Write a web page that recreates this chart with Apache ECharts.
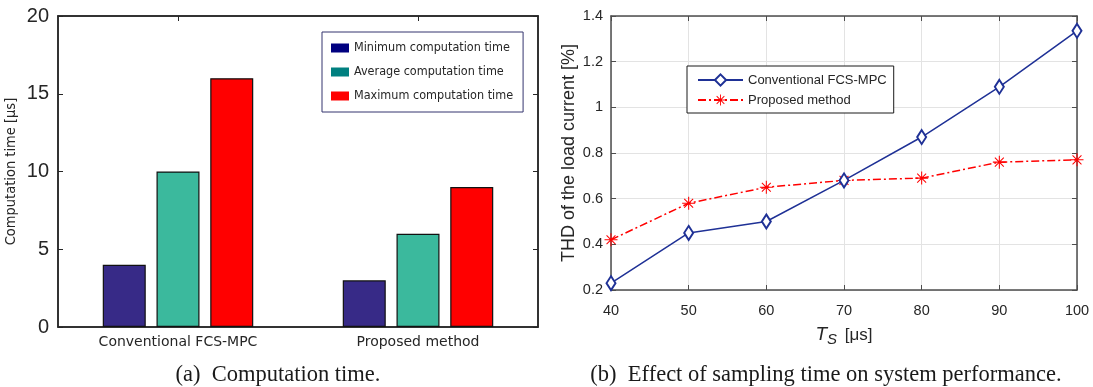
<!DOCTYPE html>
<html>
<head>
<meta charset="utf-8">
<script src="https://cdn.jsdelivr.net/npm/echarts@6/dist/echarts.min.js"></script>
<style>
  html, body { margin: 0; padding: 0; background: #fff; }
  #chart { width: 1093px; height: 387px; }
</style>
</head>
<body>
<div id="chart"></div>
<script>
// ---- Data (a) ----
const barCategories = ['Conventional FCS-MPC', 'Proposed method'];
const minTime = [4, 3];
const avgTime = [10, 6];
const maxTime = [16, 9];
const barTicks = [0, 5, 10, 15, 20];

// ---- Data (b) ----
const tsValues = [40, 50, 60, 70, 80, 90, 100];
const thdConventional = [0.23, 0.45, 0.50, 0.68, 0.87, 1.09, 1.335];
const thdProposed = [0.42, 0.58, 0.65, 0.68, 0.69, 0.76, 0.77];

const pairs = (xs, ys) => xs.map((x, i) => [x, ys[i]]);

const asterisk = 'path://M9.2 0H10.8V20H9.2Z M0 9.2H20V10.8H0Z M2.6 3.7L3.7 2.6L17.4 16.3L16.3 17.4Z M16.3 2.6L17.4 3.7L3.7 17.4L2.6 16.3Z';

const frameA = '#262626';
const frameB = '#4d4d4d';
const sans = 'Liberation Sans, Arial, sans-serif';

const chart = echarts.init(document.getElementById('chart'), null, { renderer: 'canvas' });

const option = {
  animation: false,
  backgroundColor: '#ffffff',
  grid: [
    { left: 58, right: 555, top: 16, bottom: 60, containLabel: false,
      show: true, borderColor: frameA, borderWidth: 1.5, backgroundColor: 'transparent' },
    { left: 611, right: 16, top: 16, bottom: 97, containLabel: false }
  ],
  legend: [
    {
      orient: 'vertical', left: 322, top: 32,
      padding: [9, 10, 9, 9],
      borderColor: '#35356e', borderWidth: 1, borderRadius: 0,
      backgroundColor: '#fff',
      itemWidth: 18, itemHeight: 9, itemGap: 10,
      icon: 'rect',
      textStyle: { fontFamily: 'DejaVu Sans Condensed', fontSize: 12.5, color: '#262626', lineHeight: 14 },
      data: [
        { name: 'Minimum computation time', itemStyle: { color: '#000080', borderWidth: 0 } },
        { name: 'Average computation time', itemStyle: { color: '#008080', borderWidth: 0 } },
        { name: 'Maximum computation time', itemStyle: { color: '#ff0000', borderWidth: 0 } }
      ]
    },
    {
      orient: 'vertical', left: 687, top: 66,
      padding: [7, 7, 6, 10],
      borderColor: '#1a1a1a', borderWidth: 1, borderRadius: 0,
      backgroundColor: '#fff',
      itemWidth: 45, itemHeight: 14, itemGap: 6,
      textStyle: { fontFamily: sans, fontSize: 13, color: '#262626', lineHeight: 14 },
      data: ['Conventional FCS-MPC', 'Proposed method']
    }
  ],
  xAxis: [
    {
      type: 'category', gridIndex: 0, data: barCategories, position: 'bottom',
      axisLine: { onZero: false, lineStyle: { color: frameA, width: 1.5 } },
      axisTick: { show: false },
      axisLabel: { fontFamily: 'DejaVu Sans', fontSize: 14, color: '#262626', margin: 8 }
    },
    {
      type: 'category', gridIndex: 0, data: barCategories, position: 'top',
      axisLine: { show: true, onZero: false, lineStyle: { color: frameA, width: 1.5 } },
      axisTick: { show: true, inside: true, alignWithLabel: true, length: 5, lineStyle: { color: frameA } },
      axisLabel: { show: false }
    },
    {
      type: 'value', gridIndex: 1, min: 40, max: 100, interval: 10, position: 'bottom',
      name: '{t|T}{s|S} [μs]', nameLocation: 'middle', nameGap: 33,
      nameTextStyle: {
        fontFamily: sans, fontSize: 17, color: '#262626',
        rich: {
          t: { fontFamily: sans, fontStyle: 'italic', fontSize: 19, color: '#262626' },
          s: { fontFamily: sans, fontStyle: 'italic', fontSize: 15, color: '#262626', padding: [9, 3, 0, 0] }
        }
      },
      axisLine: { onZero: false, lineStyle: { color: frameB, width: 1.5 } },
      axisTick: { inside: true, length: 5, lineStyle: { color: frameB } },
      axisLabel: { fontFamily: sans, fontSize: 14.5, color: '#262626', margin: 13 },
      splitLine: { show: true, lineStyle: { color: '#e3e3e3', width: 1 } }
    },
    {
      type: 'value', gridIndex: 1, min: 40, max: 100, interval: 10, position: 'top',
      axisLine: { onZero: false, lineStyle: { color: frameB, width: 1.5 } },
      axisTick: { inside: true, length: 5, lineStyle: { color: frameB } },
      axisLabel: { show: false },
      splitLine: { show: false }
    }
  ],
  yAxis: [
    {
      type: 'value', gridIndex: 0, min: barTicks[0], max: barTicks[barTicks.length - 1], interval: 5, position: 'left',
      name: 'Computation time [μs]', nameLocation: 'middle', nameGap: 39,
      nameTextStyle: { fontFamily: 'DejaVu Sans Condensed', fontSize: 14.5, color: '#262626' },
      axisLine: { show: true, onZero: false, lineStyle: { color: frameA, width: 1.5 } },
      axisTick: { show: true, inside: true, length: 5, lineStyle: { color: frameA } },
      axisLabel: { fontFamily: sans, fontSize: 20, color: '#262626', margin: 9 },
      splitLine: { show: false }
    },
    {
      type: 'value', gridIndex: 0, min: barTicks[0], max: barTicks[barTicks.length - 1], interval: 5, position: 'right',
      axisLine: { show: true, onZero: false, lineStyle: { color: frameA, width: 1.5 } },
      axisTick: { show: true, inside: true, length: 5, lineStyle: { color: frameA } },
      axisLabel: { show: false },
      splitLine: { show: false }
    },
    {
      type: 'value', gridIndex: 1, min: 0.2, max: 1.4, interval: 0.2, position: 'left',
      name: 'THD of the load current [%]', nameLocation: 'middle', nameGap: 33,
      nameTextStyle: { fontFamily: sans, fontSize: 18, color: '#262626' },
      axisLine: { show: true, onZero: false, lineStyle: { color: frameB, width: 1.5 } },
      axisTick: { show: true, inside: true, length: 5, lineStyle: { color: frameB } },
      axisLabel: { fontFamily: sans, fontSize: 14.5, color: '#262626', margin: 8 },
      splitLine: { show: true, lineStyle: { color: '#e3e3e3', width: 1 } }
    },
    {
      type: 'value', gridIndex: 1, min: 0.2, max: 1.4, interval: 0.2, position: 'right',
      axisLine: { show: true, onZero: false, lineStyle: { color: frameB, width: 1.5 } },
      axisTick: { show: true, inside: true, length: 5, lineStyle: { color: frameB } },
      axisLabel: { show: false },
      splitLine: { show: false }
    }
  ],
  series: [
    {
      name: 'Minimum computation time', type: 'bar', xAxisIndex: 0, yAxisIndex: 0,
      data: minTime, barWidth: 43, barGap: '25%',
      itemStyle: { color: '#372a87', borderColor: '#111', borderWidth: 1.2 }
    },
    {
      name: 'Average computation time', type: 'bar', xAxisIndex: 0, yAxisIndex: 0,
      data: avgTime, barWidth: 43, barGap: '25%',
      itemStyle: { color: '#3bb99d', borderColor: '#111', borderWidth: 1.2 }
    },
    {
      name: 'Maximum computation time', type: 'bar', xAxisIndex: 0, yAxisIndex: 0,
      data: maxTime, barWidth: 43, barGap: '25%',
      itemStyle: { color: '#ff0000', borderColor: '#111', borderWidth: 1.2 }
    },
    {
      name: 'Proposed method', type: 'line', xAxisIndex: 2, yAxisIndex: 2,
      data: pairs(tsValues, thdProposed),
      symbol: asterisk, symbolSize: 13,
      lineStyle: { color: '#ff0000', width: 1.5, type: [8, 3, 2, 3] },
      itemStyle: { color: '#ff0000' },
      z: 3
    },
    {
      name: 'Conventional FCS-MPC', type: 'line', xAxisIndex: 2, yAxisIndex: 2,
      data: pairs(tsValues, thdConventional),
      symbol: 'emptyDiamond', symbolSize: [9, 14],
      lineStyle: { color: '#1f3196', width: 1.5 },
      itemStyle: { color: '#1f3196', borderWidth: 1.5 },
      z: 4
    }
  ],
  graphic: [
    {
      type: 'text',
      x: 278, y: 375,
      style: {
        text: '(a)  Computation time.', fontFamily: 'Liberation Serif, serif', fontSize: 22.5,
        fill: '#1a1a1a', align: 'center', verticalAlign: 'middle'
      }
    },
    {
      type: 'text',
      x: 826, y: 375,
      style: {
        text: '(b)  Effect of sampling time on system performance.', fontFamily: 'Liberation Serif, serif', fontSize: 22.5,
        fill: '#1a1a1a', align: 'center', verticalAlign: 'middle'
      }
    }
  ]
};

chart.setOption(option);
</script>
</body>
</html>
